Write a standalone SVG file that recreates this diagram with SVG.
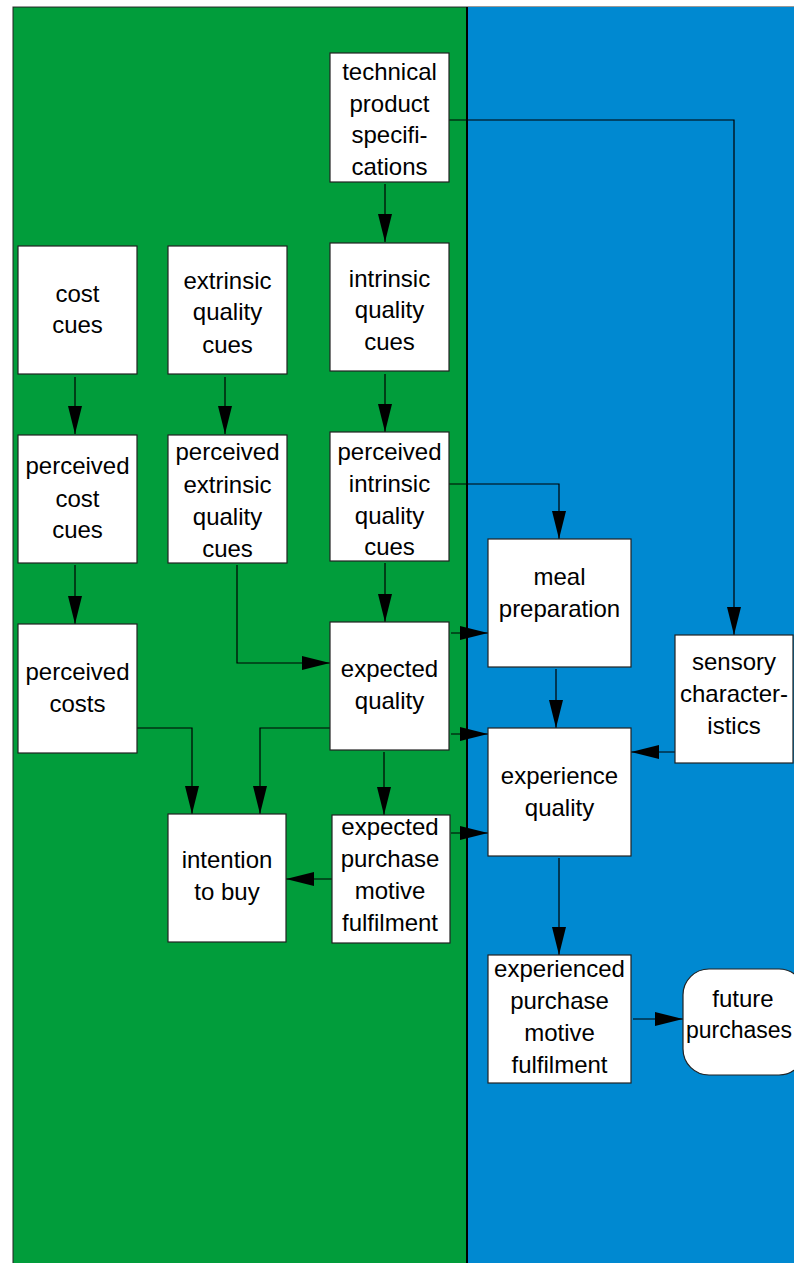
<svg xmlns="http://www.w3.org/2000/svg" width="794" height="1263" viewBox="0 0 794 1263">
<defs>
<marker id="ah" markerUnits="userSpaceOnUse" markerWidth="28" markerHeight="14" refX="28" refY="7" orient="auto">
<path d="M0,0 L28,7 L0,14 z" fill="#000"/>
</marker>
<style>
.box{fill:#fff;stroke:#222;stroke-width:1.2}
.t{font-family:"Liberation Sans",Arial,sans-serif;font-size:24px;fill:#000;text-anchor:middle}
.c{fill:none;stroke:#000;stroke-width:1.2;marker-end:url(#ah)}
</style>
</defs>
<rect x="0" y="0" width="794" height="1263" fill="#fff"/>
<g id="background">
<rect x="13" y="7" width="454" height="1260" fill="#019D3B" stroke="#222" stroke-width="1"/>
<rect x="467" y="7" width="330" height="1260" fill="#0089D1"/>
<line x1="13" y1="6.5" x2="794" y2="6.5" stroke="#999" stroke-width="1"/>
<line x1="467" y1="7" x2="467" y2="1263" stroke="#000" stroke-width="2"/>
</g>
<g id="connectors">
<path class="c" d="M385,184 V242"/>
<path class="c" d="M449,120 H734 V635"/>
<path class="c" d="M75,377 V434"/>
<path class="c" d="M225,377 V434"/>
<path class="c" d="M385,374 V432"/>
<path class="c" d="M75,565 V624"/>
<path class="c" d="M237,565 V663 H330"/>
<path class="c" d="M449,484 H559 V539"/>
<path class="c" d="M385,563 V622"/>
<path class="c" d="M451,633 H488"/>
<path class="c" d="M451,734 H488"/>
<path class="c" d="M556,669 V728"/>
<path class="c" d="M675,752 H631"/>
<path class="c" d="M137,728 H192 V814"/>
<path class="c" d="M330,728 H260 V814"/>
<path class="c" d="M384,752 V815"/>
<path class="c" d="M332,879 H286"/>
<path class="c" d="M451,833 H488"/>
<path class="c" d="M559,858 V955"/>
<path class="c" d="M633,1019 H683"/>
</g>
<g id="n-tech">
<rect class="box" x="330" y="53" width="119" height="129"/>
<text class="t" x="389.5" y="80">technical</text>
<text class="t" x="389.5" y="112">product</text>
<text class="t" x="389.5" y="143">specifi-</text>
<text class="t" x="389.5" y="175">cations</text>
</g>
<g id="n-costcues">
<rect class="box" x="18" y="246" width="119" height="128"/>
<text class="t" x="77.5" y="302">cost</text>
<text class="t" x="77.5" y="333">cues</text>
</g>
<g id="n-extrinsic">
<rect class="box" x="168" y="246" width="119" height="128"/>
<text class="t" x="227.5" y="289">extrinsic</text>
<text class="t" x="227.5" y="320">quality</text>
<text class="t" x="227.5" y="353">cues</text>
</g>
<g id="n-intrinsic">
<rect class="box" x="330" y="243" width="119" height="128"/>
<text class="t" x="389.5" y="287">intrinsic</text>
<text class="t" x="389.5" y="318">quality</text>
<text class="t" x="389.5" y="350">cues</text>
</g>
<g id="n-pcostcues">
<rect class="box" x="18" y="435" width="119" height="128"/>
<text class="t" x="77.5" y="474">perceived</text>
<text class="t" x="77.5" y="507">cost</text>
<text class="t" x="77.5" y="538">cues</text>
</g>
<g id="n-pextrinsic">
<rect class="box" x="168" y="435" width="119" height="128"/>
<text class="t" x="227.5" y="460">perceived</text>
<text class="t" x="227.5" y="493">extrinsic</text>
<text class="t" x="227.5" y="525">quality</text>
<text class="t" x="227.5" y="557">cues</text>
</g>
<g id="n-pintrinsic">
<rect class="box" x="330" y="432" width="119" height="129"/>
<text class="t" x="389.5" y="460">perceived</text>
<text class="t" x="389.5" y="492">intrinsic</text>
<text class="t" x="389.5" y="524">quality</text>
<text class="t" x="389.5" y="555">cues</text>
</g>
<g id="n-meal">
<rect class="box" x="488" y="539" width="143" height="128"/>
<text class="t" x="559.5" y="585">meal</text>
<text class="t" x="559.5" y="617">preparation</text>
</g>
<g id="n-expq">
<rect class="box" x="330" y="622" width="119" height="128"/>
<text class="t" x="389.5" y="677">expected</text>
<text class="t" x="389.5" y="709">quality</text>
</g>
<g id="n-sensory">
<rect class="box" x="675" y="635" width="118" height="128"/>
<text class="t" x="734" y="670">sensory</text>
<text class="t" x="734" y="702">character-</text>
<text class="t" x="734" y="734">istics</text>
</g>
<g id="n-expcosts">
<rect class="box" x="18" y="624" width="119" height="129"/>
<text class="t" x="77.5" y="680">perceived</text>
<text class="t" x="77.5" y="712">costs</text>
</g>
<g id="n-experience">
<rect class="box" x="488" y="728" width="143" height="128"/>
<text class="t" x="559.5" y="784">experience</text>
<text class="t" x="559.5" y="816">quality</text>
</g>
<g id="n-intention">
<rect class="box" x="168" y="814" width="118" height="128"/>
<text class="t" x="227" y="868">intention</text>
<text class="t" x="227" y="900">to buy</text>
</g>
<g id="n-epmf">
<rect class="box" x="332" y="815" width="118" height="128"/>
<text class="t" x="390" y="835">expected</text>
<text class="t" x="390" y="867">purchase</text>
<text class="t" x="390" y="899">motive</text>
<text class="t" x="390" y="931">fulfilment</text>
</g>
<g id="n-xpmf">
<rect class="box" x="488" y="955" width="143" height="128"/>
<text class="t" x="559.5" y="977">experienced</text>
<text class="t" x="559.5" y="1009">purchase</text>
<text class="t" x="559.5" y="1041">motive</text>
<text class="t" x="559.5" y="1073">fulfilment</text>
</g>
<g id="n-future">
<rect class="box" x="683" y="969" width="122" height="106" rx="26" ry="26"/>
<text class="t" x="743" y="1007">future</text>
<text class="t" x="739" y="1038" style="font-size:23px">purchases</text>
</g>
</svg>
